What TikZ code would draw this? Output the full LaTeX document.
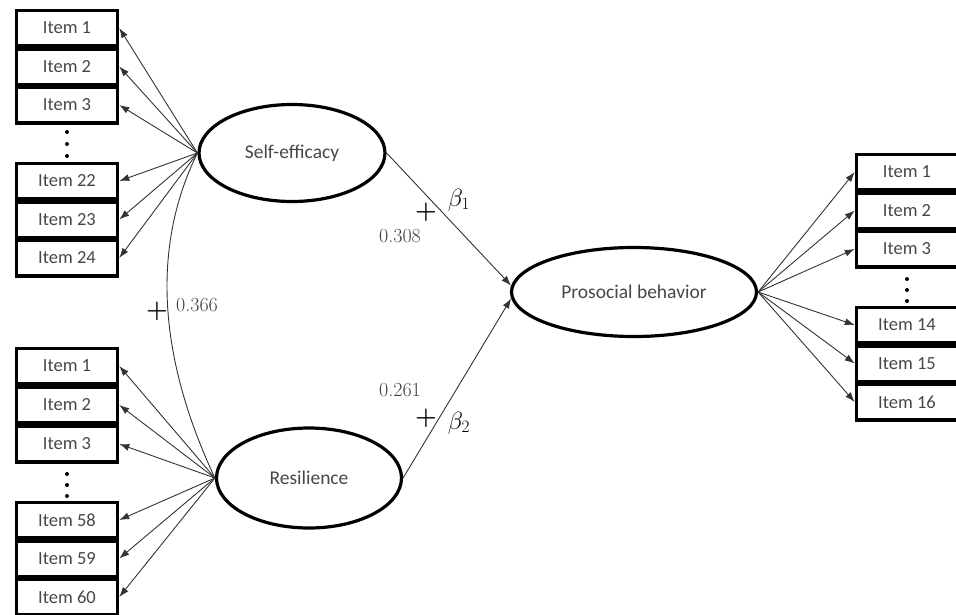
\documentclass[tikz,border=0pt]{standalone}
\usepackage{fontspec}
\setsansfont{Carlito}
\usepackage{amsmath}
\usepackage{bm}
\usetikzlibrary{shapes.geometric}
\usetikzlibrary{arrows.meta}

\begin{document}
\begin{tikzpicture}[x=1pt,y=-1pt,
 item/.style={draw,line width=3.5pt,minimum width=101pt,minimum height=35.5pt,inner sep=0pt,font=\sffamily\fontsize{18.5}{20}\selectfont,text=black!72},
 latent/.style={ellipse,draw,line width=3.2pt,inner sep=0pt,font=\sffamily\fontsize{19.5}{22}\selectfont,text=black!72},
 load/.style={-{Latex[length=10pt,width=7pt]},line width=0.9pt,black!80},
 coef/.style={font=\fontsize{20}{22}\selectfont,text=black!75},
 sign/.style={font=\fontsize{24}{26}\selectfont},
 dot/.style={fill=black}]
 \useasboundingbox (0,0) rectangle (956,614);
 % latent variables
 \node[latent,minimum width=186pt,minimum height=97pt] (se) at (292,153) {Self-efficacy};
 \node[latent,minimum width=185pt,minimum height=100pt] (res) at (309,478) {Resilience};
 \node[latent,minimum width=245pt,minimum height=89pt] (pro) at (634,292) {Prosocial behavior};
 % self-efficacy items
 \node[item] (sa1) at (67,28) {Item 1};
 \node[item] (sa2) at (67,66.5) {Item 2};
 \node[item] (sa3) at (67,105) {Item 3};
 \node[item] (sa22) at (67,181) {Item 22};
 \node[item] (sa23) at (67,219.5) {Item 23};
 \node[item] (sa24) at (67,258) {Item 24};
 % resilience items
 \node[item] (ra1) at (67,366) {Item 1};
 \node[item] (ra2) at (67,405) {Item 2};
 \node[item] (ra3) at (67,444) {Item 3};
 \node[item] (ra58) at (67,520) {Item 58};
 \node[item] (ra59) at (67,558.5) {Item 59};
 \node[item] (ra60) at (67,597) {Item 60};
 % prosocial items
 \node[item] (pa1) at (907,172) {Item 1};
 \node[item] (pa2) at (907,210.5) {Item 2};
 \node[item] (pa3) at (907,249) {Item 3};
 \node[item] (pa14) at (907,325) {Item 14};
 \node[item] (pa15) at (907,363.5) {Item 15};
 \node[item] (pa16) at (907,402) {Item 16};
 % dots
 \fill[dot] (67,132) circle (2) (67,144) circle (2) (67,156) circle (2);
 \fill[dot] (67,474) circle (2) (67,485) circle (2) (67,496) circle (2);
 \fill[dot] (907,279) circle (2) (907,290) circle (2) (907,301) circle (2);
 % loadings
 \draw[load] (se.west) -- (sa1.east);
 \draw[load] (se.west) -- (sa2.east);
 \draw[load] (se.west) -- (sa3.east);
 \draw[load] (se.west) -- (sa22.east);
 \draw[load] (se.west) -- (sa23.east);
 \draw[load] (se.west) -- (sa24.east);
 \draw[load] (res.west) -- (ra1.east);
 \draw[load] (res.west) -- (ra2.east);
 \draw[load] (res.west) -- (ra3.east);
 \draw[load] (res.west) -- (ra58.east);
 \draw[load] (res.west) -- (ra59.east);
 \draw[load] (res.west) -- (ra60.east);
 \draw[load] (pro.east) -- (pa1.west);
 \draw[load] (pro.east) -- (pa2.west);
 \draw[load] (pro.east) -- (pa3.west);
 \draw[load] (pro.east) -- (pa14.west);
 \draw[load] (pro.east) -- (pa15.west);
 \draw[load] (pro.east) -- (pa16.west);
 % paths
 \draw[load] (se.east) -- (pro.177);
 \draw[load] (res.east) -- (pro.183);
 \draw[line width=0.9pt,black!80] (se.west) .. controls +(-46,94) and +(-57,-122) .. (res.west);
 % coefficients
 \node[sign] (p1) at (426,212) {$\bm{+}$};
 \node[font=\fontsize{26}{28}\selectfont] (b1) at (459,200) {$\beta_1$};
 \node[coef] (c1) at (400,236) {0.308};
 \node[sign] (p2) at (426,418) {$\bm{+}$};
 \node[font=\fontsize{26}{28}\selectfont] (b2) at (459,423) {$\beta_2$};
 \node[coef] (c2) at (400,390) {0.261};
 \node[sign] (p3) at (157,311) {$\bm{+}$};
 \node[coef] (c3) at (197,305) {0.366};
\end{tikzpicture}
\end{document}
